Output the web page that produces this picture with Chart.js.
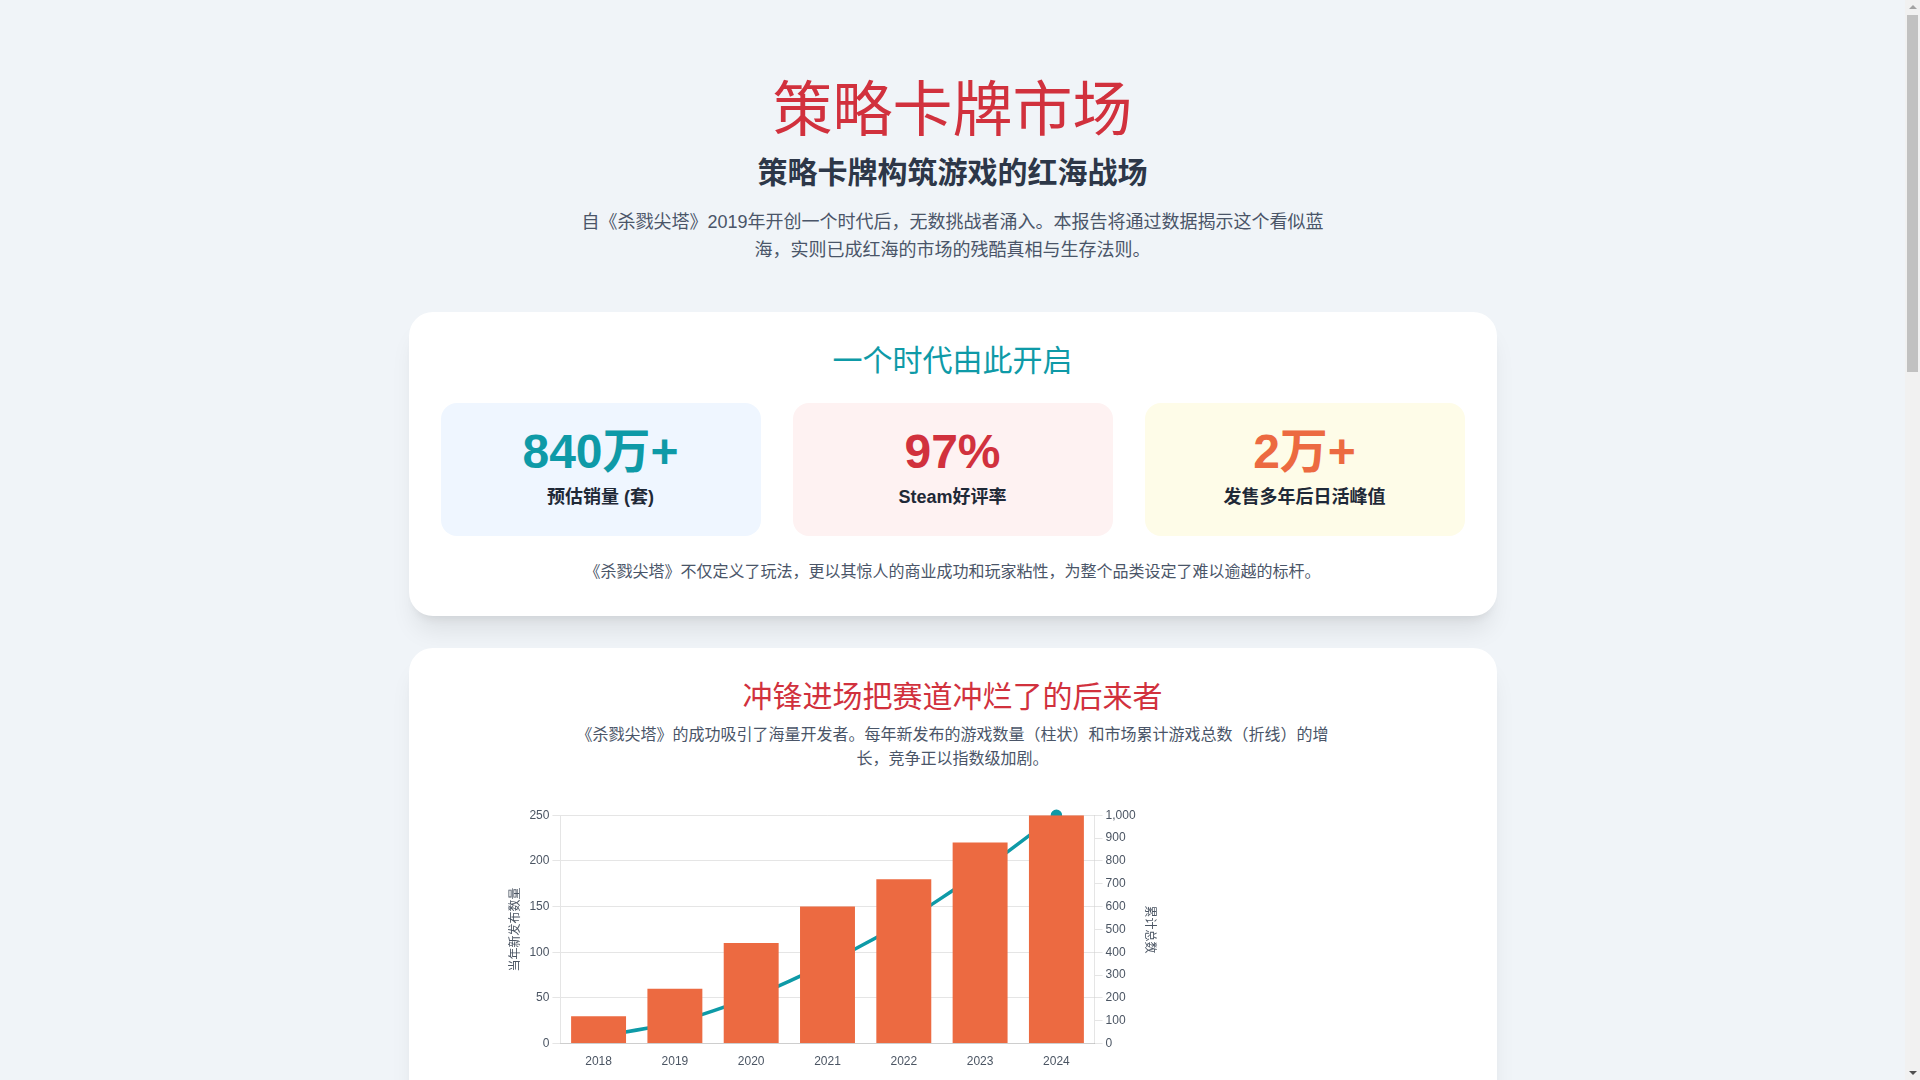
<!DOCTYPE html>
<html lang="zh-CN">
<head>
<meta charset="UTF-8">
<title>策略卡牌市场</title>
<script src="https://cdn.jsdelivr.net/npm/chart.js@4.4.1/dist/chart.umd.min.js"></script>
<style>
  body {
    margin: 0 15px 0 0;
    background: #F0F4F8;
    font-family: 'Liberation Sans', 'Noto Sans CJK SC', sans-serif;
    color: #2D3748;
  }
  .container { max-width: 1088px; margin: 0 auto; padding: 75px 0 48px; }
  header { text-align: center; }
  h1 { font-size: 60px; line-height: 72px; margin: 0; color: #D1313D; font-weight: 400; }
  h2 { font-size: 30px; line-height: 36px; margin: 8px 0 0; font-weight: 700; color: #2D3748; }
  .intro { font-size: 18px; line-height: 28.8px; max-width: 768px; margin: 16.5px auto 0; color: #4A5568; }
  .card {
    background: #fff;
    border-radius: 24px;
    padding: 31px 32px 32px;
    margin-top: 46.5px;
    box-shadow: 0 20px 25px -5px rgba(0,0,0,0.08), 0 8px 10px -6px rgba(0,0,0,0.08);
  }
  .card + .card { margin-top: 32px; }
  .card h3 { font-size: 30px; line-height: 36px; margin: 0; font-weight: 400; text-align: center; }
  .teal { color: #0E9AA7; }
  .red { color: #D1313D; }
  .orange { color: #EC6A41; }
  .stats { display: grid; grid-template-columns: repeat(3, 1fr); gap: 32px; margin-top: 24px; }
  .stat { border-radius: 16px; padding: 25px 24px 25px; text-align: center; }
  .stat .num { font-size: 48px; line-height: 48px; font-weight: 700; }
  .stat .label { font-size: 18px; line-height: 27px; margin-top: 8px; font-weight: 700; color: #1F2937; }
  .note { font-size: 16px; line-height: 24px; margin: 24px 0 0; text-align: center; color: #4A5568; }
  .desc { font-size: 16px; line-height: 24px; max-width: 768px; margin: 8px auto 0; text-align: center; color: #4A5568; }
  .chart-box { position: relative; width: 657px; height: 299px; margin: 34.5px 0 0 63px; }

  /* static look of the browser scrollbar seen in the reference */
  .sb-track { position: fixed; top: 0; right: 0; width: 15px; height: 100vh; background: #F1F1F1; }
  .sb-thumb { position: absolute; top: 15px; left: 2px; width: 11px; height: 357px; background: #C1C1C1; }
  .sb-up, .sb-down { position: absolute; left: 3.5px; width: 0; height: 0; border-left: 4px solid transparent; border-right: 4px solid transparent; }
  .sb-up { top: 5px; border-bottom: 4px solid #A3A3A3; }
  .sb-down { bottom: 5px; border-top: 4px solid #505050; }
</style>
</head>
<body>
<div class="container">
  <header>
    <h1>策略卡牌市场</h1>
    <h2>策略卡牌构筑游戏的红海战场</h2>
    <p class="intro">自《杀戮尖塔》2019年开创一个时代后，无数挑战者涌入。本报告将通过数据揭示这个看似蓝海，实则已成红海的市场的残酷真相与生存法则。</p>
  </header>

  <section class="card">
    <h3 class="teal">一个时代由此开启</h3>
    <div class="stats">
      <div class="stat" style="background:#EFF6FF">
        <div class="num teal">840万+</div>
        <div class="label">预估销量 (套)</div>
      </div>
      <div class="stat" style="background:#FEF2F2">
        <div class="num red">97%</div>
        <div class="label">Steam好评率</div>
      </div>
      <div class="stat" style="background:#FEFCE8">
        <div class="num orange">2万+</div>
        <div class="label">发售多年后日活峰值</div>
      </div>
    </div>
    <p class="note">《杀戮尖塔》不仅定义了玩法，更以其惊人的商业成功和玩家粘性，为整个品类设定了难以逾越的标杆。</p>
  </section>

  <section class="card">
    <h3 class="red">冲锋进场把赛道冲烂了的后来者</h3>
    <p class="desc">《杀戮尖塔》的成功吸引了海量开发者。每年新发布的游戏数量（柱状）和市场累计游戏总数（折线）的增长，竞争正以指数级加剧。</p>
    <div class="chart-box">
      <canvas id="marketChart"></canvas>
    </div>
  </section>
</div>

<div class="sb-track"><div class="sb-up"></div><div class="sb-thumb"></div><div class="sb-down"></div></div>

<script>
const years = ['2018', '2019', '2020', '2021', '2022', '2023', '2024'];
const newReleases = [30, 60, 110, 150, 180, 220, 250];
const cumulativeTotal = [30, 90, 200, 350, 530, 750, 1000];

Chart.defaults.font.family = "'Liberation Sans', 'Noto Sans CJK SC', sans-serif";
Chart.defaults.color = '#4B5563';

new Chart(document.getElementById('marketChart'), {
  type: 'bar',
  data: {
    labels: years,
    datasets: [
      {
        type: 'bar',
        label: '当年新发布数量',
        data: newReleases,
        backgroundColor: '#EC6A41',
        yAxisID: 'y',
        order: 1,
      },
      {
        type: 'line',
        label: '累计总数',
        data: cumulativeTotal,
        borderColor: '#0E9AA7',
        backgroundColor: '#0E9AA7',
        borderWidth: 3.5,
        pointRadius: 4,
        tension: 0.1,
        yAxisID: 'y1',
        order: 2,
      },
    ],
  },
  options: {
    responsive: true,
    maintainAspectRatio: false,
    animation: false,
    plugins: {
      legend: { position: 'bottom' },
    },
    scales: {
      x: {
        grid: { display: false },
      },
      y: {
        position: 'left',
        beginAtZero: true,
        title: { display: true, text: '当年新发布数量' },
      },
      y1: {
        position: 'right',
        beginAtZero: true,
        grid: { drawOnChartArea: false },
        title: { display: true, text: '累计总数' },
      },
    },
  },
});
</script>
</body>
</html>
